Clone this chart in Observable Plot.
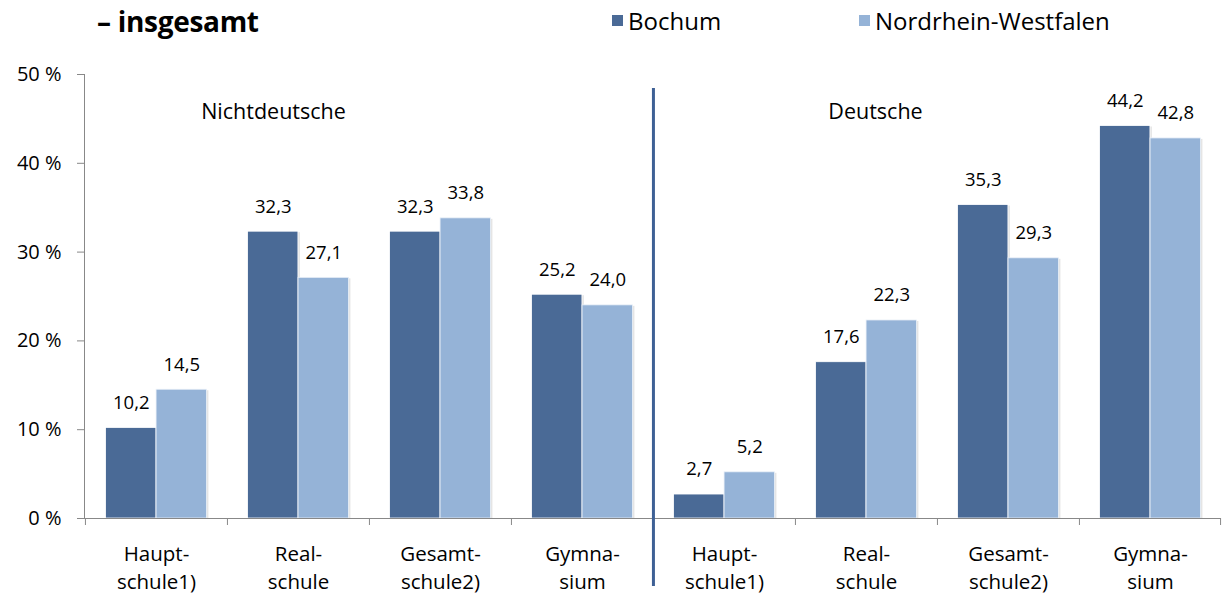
<!DOCTYPE html>
<html>
<head>
<meta charset="utf-8">
<script src="https://cdn.jsdelivr.net/npm/d3@7"></script>
<script src="https://cdn.jsdelivr.net/npm/@observablehq/plot@0.6"></script>
<style>
  body { margin: 0; background: #fff; font-family: "Open Sans", Lato, sans-serif; }
  #wrap { position: relative; width: 1222px; }
  #header { position: relative; height: 50px; }
  #title { position: absolute; left: 97px; top: 2px; font-size: 28px; font-weight: bold; color: #000; letter-spacing: -0.3px; }
  .leg { position: absolute; top: 4px; font-size: 24px; color: #000; display: flex; align-items: center; }
  .sw { width: 11px; height: 11px; display: inline-block; margin-right: 5px; }
</style>
</head>
<body>
<div id="wrap">
  <div id="header">
    <div id="title">– insgesamt</div>
    <div class="leg" style="left:612px"><span class="sw" style="background:#4a6a96"></span>Bochum</div>
    <div class="leg" style="left:859px"><span class="sw" style="background:#95b3d7"></span>Nordrhein-Westfalen</div>
  </div>
  <div id="chart"></div>
</div>
<script>
const schoolTypes = ["Haupt-\nschule1)", "Real-\nschule", "Gesamt-\nschule2)", "Gymna-\nsium"];
const groups = ["Nichtdeutsche", "Deutsche"];
const bochum = [10.2, 32.3, 32.3, 25.2, 2.7, 17.6, 35.3, 44.2];
const nrw    = [14.5, 27.1, 33.8, 24.0, 5.2, 22.3, 29.3, 42.8];
const yTicks = [0, 10, 20, 30, 40, 50];

const ids = [];
const labelOf = {};
groups.forEach((g, gi) => schoolTypes.forEach((s, si) => {
  const id = g + "|" + si;
  ids.push(id);
  labelOf[id] = s;
}));
const data = ids.map((id, i) => ({id, bochum: bochum[i], nrw: nrw[i]}));

const W = 1222, H = 544, mL = 84, mR = 1, mT = 24, mB = 76;
const step = (W - mL - mR) / ids.length;
const barW = 50.5;
const fmt = v => v.toFixed(1).replace(".", ",");
const yPerUnit = (H - mT - mB) / 50;
const font = "'Open Sans', Lato, sans-serif";

const chart = Plot.plot({
  width: W, height: H,
  marginLeft: mL, marginRight: mR, marginTop: mT, marginBottom: mB,
  style: {fontFamily: font, fontSize: "20px", color: "#000", background: "#fff"},
  x: {domain: ids, padding: 0, axis: null, label: null},
  y: {domain: [0, 50], axis: null, label: null},
  marks: [
    // shadows
    Plot.rectY(data, {x: "id", y: "bochum", insetLeft: step/2 - barW, insetRight: step/2, fill: "#888", fillOpacity: 0.22, dx: 2, dy: 1}),
    Plot.rectY(data, {x: "id", y: "nrw", insetLeft: step/2, insetRight: step/2 - barW, fill: "#888", fillOpacity: 0.22, dx: 2, dy: 1}),
    Plot.barY(data, {x: "id", y: "bochum", insetLeft: step/2 - barW, insetRight: step/2, fill: "#4a6a96", stroke: "#fff", strokeWidth: 0.8}),
    Plot.barY(data, {x: "id", y: "nrw", insetLeft: step/2, insetRight: step/2 - barW, fill: "#95b3d7", stroke: "#eaf0f8", strokeWidth: 0.8}),
    Plot.text(data, {x: "id", y: "bochum", text: d => fmt(d.bochum), dx: -barW/2, dy: -25, fontSize: 18.5}),
    Plot.text(data, {x: "id", y: "nrw", text: d => fmt(d.nrw), dx: barW/2, dy: -25, fontSize: 18.5}),
    // axes
    Plot.frame({anchor: "left", stroke: "#888"}),
    Plot.ruleY([0], {stroke: "#888", strokeWidth: 1.2}),
    Plot.axisY({ticks: yTicks, tickFormat: d => d + " %", tickSize: 7, tickPadding: 16, stroke: "#888", fontSize: 20, label: null}),
    Plot.ruleX(ids, {x: d => d, dx: -step/2, y1: 0, y2: -7 / yPerUnit, stroke: "#888"}),
    Plot.ruleX([ids[ids.length - 1]], {x: d => d, dx: step/2 - 1, y1: 0, y2: -7 / yPerUnit, stroke: "#888"}),
    Plot.axisX({tickSize: 0, tickPadding: 23, tickFormat: d => labelOf[d], fontSize: 20.5, lineHeight: 1.36, label: null}),
    // separator between groups
    Plot.ruleX([ids[4]], {x: d => d, dx: -step/2, y1: (H - mB - mT - 14) / yPerUnit, y2: -68 / yPerUnit, stroke: "#3e6095", strokeWidth: 3}),
    // group labels
    Plot.text([groups[0]], {x: () => ids[1], y: () => 45.8, text: d => d, dx: -25, fontSize: 21.5}),
    Plot.text([groups[1]], {x: () => ids[5], y: () => 45.8, text: d => d, dx: 9, fontSize: 21.5}),
  ]
});
document.getElementById("chart").appendChild(chart);
</script>
</body>
</html>
